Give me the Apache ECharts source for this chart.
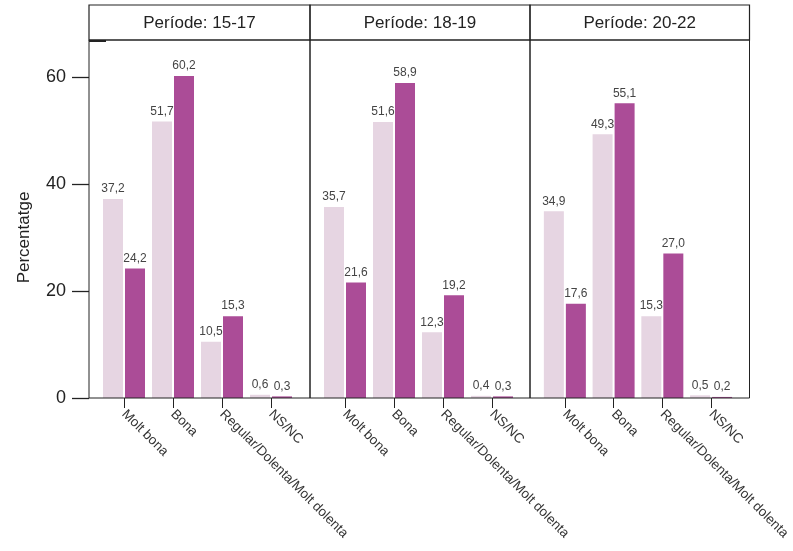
<!DOCTYPE html>
<html>
<head>
<meta charset="utf-8">
<script src="https://cdn.jsdelivr.net/npm/echarts@6/dist/echarts.min.js"></script>
<style>
  html, body { margin: 0; padding: 0; background: #fff; }
  #chart { width: 793px; height: 551px; }
</style>
</head>
<body>
<div id="chart"></div>
<script>
// categories and values (percent)
var categories = ['Molt bona', 'Bona', 'Regular/Dolenta/Molt dolenta', 'NS/NC'];
var periods = ['Període: 15-17', 'Període: 18-19', 'Período: 20-22'.replace('Período', 'Període')];
var lightValues = [
  [37.2, 51.7, 10.5, 0.6],
  [35.7, 51.6, 12.3, 0.4],
  [34.9, 49.3, 15.3, 0.5]
];
var darkValues = [
  [24.2, 60.2, 15.3, 0.3],
  [21.6, 58.9, 19.2, 0.3],
  [17.6, 55.1, 27.0, 0.2]
];
var yTicks = [0, 20, 40, 60];

var FONT = 'Liberation Sans, Arial, sans-serif';
var panelX = [89, 310, 530, 749.5];
var plotTop = 40, plotBottom = 398, headTop = 5;
var pxPerUnit = 5.35;
var yMax = (plotBottom - plotTop) / pxPerUnit;   // ~66.9 visible in the frame

var chart = echarts.init(document.getElementById('chart'));

var grids = [], xAxes = [], yAxes = [], series = [], graphics = [];

function fmt(v) { return v.toFixed(1).replace('.', ','); }

for (var p = 0; p < 3; p++) {
  grids.push({
    left: panelX[p] + 10.5,
    width: 196,
    top: plotTop,
    height: plotBottom - plotTop
  });
  xAxes.push({
    type: 'category',
    gridIndex: p,
    data: categories,
    axisLine: { show: false },
    axisTick: { show: true, alignWithLabel: true, length: 10, lineStyle: { color: '#222' } },
    axisLabel: {
      rotate: -45,
      interval: 0,
      margin: 14,
      fontSize: 13.5,
      color: '#333',
      fontFamily: FONT
    }
  });
  yAxes.push({
    type: 'value',
    gridIndex: p,
    show: false,
    min: 0,
    max: yMax
  });
  var lbl = {
    show: true,
    position: 'top',
    distance: 4,
    fontSize: 12,
    color: '#444',
    fontFamily: FONT,
    formatter: function (d) { return fmt(d.value); }
  };
  series.push({
    type: 'bar',
    xAxisIndex: p,
    yAxisIndex: p,
    data: lightValues[p],
    barWidth: 20,
    barGap: '10%',
    itemStyle: { color: '#e6d5e2' },
    label: lbl
  });
  series.push({
    type: 'bar',
    xAxisIndex: p,
    yAxisIndex: p,
    data: darkValues[p],
    barWidth: 20,
    barGap: '10%',
    itemStyle: { color: '#ab4c97' },
    label: lbl
  });

  // panel frame and header box
  var w = panelX[p + 1] - panelX[p];
  graphics.push({
    type: 'rect', z: 100, silent: true,
    shape: { x: panelX[p], y: plotTop, width: w, height: plotBottom - plotTop },
    style: { fill: 'none', stroke: '#222', lineWidth: 1 }
  });
  graphics.push({
    type: 'rect', z: 100, silent: true,
    shape: { x: panelX[p], y: headTop, width: w, height: plotTop - headTop },
    style: { fill: 'none', stroke: '#222', lineWidth: 1.2 }
  });
  graphics.push({
    type: 'text', z: 100, silent: true,
    x: panelX[p] + w / 2, y: (headTop + plotTop) / 2 + 1,
    style: {
      text: periods[p], fill: '#222', fontSize: 17, fontFamily: FONT,
      align: 'center', verticalAlign: 'middle'
    }
  });
}

// shared left axis: a narrow grid left of the first panel, 0..60 at the same
// scale; horizontal mark lines across it act as the outward tick marks
var axisH = 60 * pxPerUnit;
grids.push({ left: panelX[0] - 17, width: 17, top: plotBottom - axisH, height: axisH });
xAxes.push({ type: 'category', gridIndex: 3, data: [''], show: false });
yAxes.push({
  type: 'value',
  gridIndex: 3,
  min: 0,
  max: 60,
  interval: 20,
  splitLine: { show: false },
  axisLine: { show: false },
  axisTick: { show: false },
  axisLabel: { margin: 6, fontSize: 18, color: '#222', fontFamily: FONT },
  name: 'Percentatge',
  nameLocation: 'middle',
  nameRotate: 90,
  nameGap: 39,
  nameMoveOverlap: false,
  nameTextStyle: { fontSize: 17, color: '#222', fontFamily: FONT }
});
series.push({
  type: 'line',
  xAxisIndex: 3,
  yAxisIndex: 3,
  data: [],
  markLine: {
    silent: true,
    symbol: ['none', 'none'],
    label: { show: false },
    lineStyle: { color: '#222', width: 1.3, type: 'solid' },
    data: yTicks.map(function (v) { return { yAxis: v }; })
  }
});

// small stroke at the top-left corner of the first panel
graphics.push({
  type: 'line', z: 100, silent: true,
  shape: { x1: 89, y1: 41, x2: 106, y2: 41 },
  style: { stroke: '#222', lineWidth: 2 }
});

chart.setOption({
  backgroundColor: '#fff',
  animation: false,
  grid: grids,
  xAxis: xAxes,
  yAxis: yAxes,
  series: series,
  graphic: graphics
});
</script>
</body>
</html>
